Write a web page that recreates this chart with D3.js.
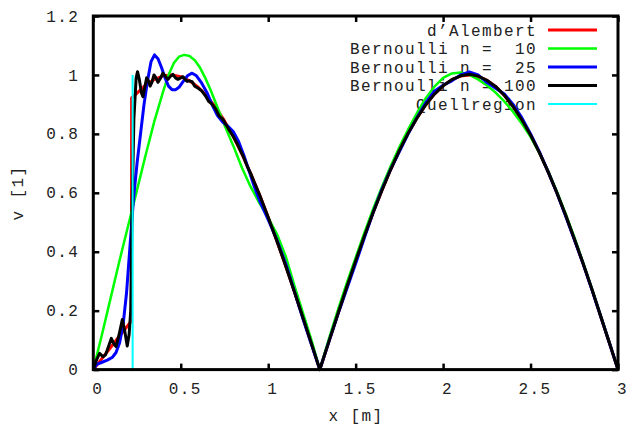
<!DOCTYPE html>
<html>
<head>
<meta charset="utf-8">
<script src="https://cdn.jsdelivr.net/npm/d3@7"></script>
<style>
  html, body { margin: 0; padding: 0; background: #fff; }
  svg { display: block; }
  text { font-family: "Liberation Mono", "DejaVu Sans Mono", monospace; font-size: 16px; letter-spacing: 1.4px; fill: #222; white-space: pre; }
</style>
</head>
<body>
<svg id="chart" width="629" height="426"></svg>
<script>
// ---- data ----
const xTicks = [0, 0.5, 1, 1.5, 2, 2.5, 3];
const yTicks = [0, 0.2, 0.4, 0.6, 0.8, 1, 1.2];
const seriesNames = ["d\u2019Alembert", "Bernoulli n =  10", "Bernoulli n =  25", "Bernoulli n = 100", "Quellregion"];

const dAlembert = [
  [0,0],[0.05,0.038],[0.1,0.076],[0.15,0.114],[0.218,0.165],[0.219,0.922],[0.25,0.938],[0.3,0.966],
  [0.35,0.985],[0.4,0.997],[0.45,1.0],[0.5,0.994],[0.55,0.98],[0.6,0.958],[0.65,0.928],[0.7,0.89],
  [0.75,0.844],[0.8,0.791],[0.85,0.731],[0.9,0.665],[0.95,0.594],[1.0,0.517],[1.05,0.436],[1.1,0.352],
  [1.15,0.264],[1.2,0.174],[1.25,0.083],[1.295,0],
  [1.35,0.101],[1.4,0.192],[1.45,0.282],[1.5,0.369],[1.55,0.453],[1.6,0.533],[1.65,0.608],[1.7,0.679],
  [1.75,0.744],[1.8,0.802],[1.85,0.853],[1.9,0.898],[1.95,0.935],[2.0,0.963],[2.05,0.984],[2.1,0.996],
  [2.15,1.0],[2.2,0.995],[2.25,0.982],[2.3,0.961],[2.35,0.931],[2.4,0.893],[2.45,0.848],[2.5,0.796],
  [2.55,0.737],[2.6,0.672],[2.65,0.601],[2.7,0.525],[2.75,0.444],[2.8,0.361],[2.85,0.274],[2.9,0.183],
  [2.95,0.092],[3.0,0]
];

const bernoulli10 = [
  [0,0],[0.05,0.12],[0.1,0.245],[0.15,0.37],[0.2,0.49],[0.25,0.61],[0.3,0.73],[0.35,0.845],[0.4,0.945],
  [0.43,1.0],[0.46,1.04],[0.49,1.062],[0.52,1.068],[0.55,1.064],[0.58,1.05],[0.61,1.025],[0.64,0.99],
  [0.67,0.95],[0.7,0.905],[0.75,0.83],[0.8,0.76],[0.85,0.685],[0.9,0.62],[0.95,0.565],[1.0,0.515],
  [1.05,0.46],[1.1,0.385],[1.15,0.285],[1.2,0.19],[1.25,0.095],[1.295,0],
  [1.35,0.11],[1.4,0.205],[1.45,0.295],[1.5,0.38],[1.55,0.465],[1.6,0.545],[1.65,0.62],[1.7,0.69],
  [1.75,0.755],[1.8,0.815],[1.85,0.87],[1.9,0.92],[1.95,0.96],[2.0,0.99],[2.05,1.005],[2.1,1.008],
  [2.15,1.0],[2.2,0.985],[2.25,0.965],[2.3,0.94],[2.35,0.91],[2.4,0.875],[2.45,0.835],[2.5,0.79],
  [2.55,0.735],[2.6,0.675],[2.65,0.605],[2.7,0.53],[2.75,0.45],[2.8,0.365],[2.85,0.277],[2.9,0.186],
  [2.95,0.094],[3.0,0]
];

const bernoulli25 = [
  [0,0],[0.02,0.018],[0.05,0.025],[0.08,0.032],[0.11,0.042],[0.13,0.058],[0.15,0.09],[0.17,0.15],
  [0.19,0.26],[0.21,0.42],[0.23,0.58],[0.25,0.70],[0.27,0.80],[0.29,0.90],[0.31,0.98],[0.33,1.045],
  [0.35,1.068],[0.37,1.055],[0.39,1.025],[0.41,0.99],[0.43,0.962],[0.45,0.95],[0.47,0.95],[0.49,0.958],
  [0.51,0.975],[0.54,0.998],[0.565,1.006],[0.59,0.997],[0.62,0.972],[0.65,0.94],[0.68,0.898],
  [0.71,0.862],[0.74,0.84],[0.77,0.826],[0.8,0.808],[0.83,0.775],[0.86,0.728],[0.89,0.676],
  [0.92,0.622],[0.95,0.574],[0.98,0.535],[1.01,0.495],[1.05,0.44],[1.1,0.36],[1.15,0.265],
  [1.2,0.17],[1.25,0.08],[1.295,0],
  [1.35,0.10],[1.4,0.19],[1.45,0.275],[1.5,0.36],[1.55,0.447],[1.6,0.533],[1.65,0.612],[1.7,0.68],
  [1.75,0.74],[1.8,0.80],[1.85,0.855],[1.9,0.905],[1.95,0.945],[2.0,0.965],[2.05,0.98],[2.1,1.0],
  [2.15,1.01],[2.2,1.0],[2.25,0.975],[2.3,0.955],[2.35,0.935],[2.4,0.9],[2.45,0.855],[2.5,0.8],
  [2.55,0.74],[2.6,0.672],[2.65,0.6],[2.7,0.522],[2.75,0.442],[2.8,0.36],[2.85,0.273],[2.9,0.183],
  [2.95,0.092],[3.0,0]
];

const bernoulli100 = [
  [0,0],[0.02,0.035],[0.036,0.055],[0.055,0.044],[0.07,0.05],[0.085,0.075],[0.103,0.106],[0.12,0.085],
  [0.13,0.078],[0.148,0.12],[0.166,0.17],[0.18,0.13],[0.194,0.08],[0.205,0.12],[0.214,0.2],[0.222,0.55],
  [0.232,0.85],[0.245,0.99],[0.253,1.011],[0.263,0.985],[0.275,0.94],[0.284,0.926],[0.295,0.96],
  [0.305,0.99],[0.315,0.98],[0.325,0.962],[0.335,0.975],[0.347,1.0],[0.358,0.99],[0.37,0.975],
  [0.385,0.99],[0.398,1.006],[0.412,0.995],[0.427,0.985],[0.441,0.995],[0.455,1.002],[0.47,0.99],
  [0.484,0.985],[0.5,0.99],[0.513,0.994],[0.525,0.985],[0.537,0.978],[0.55,0.98],[0.565,0.977],
  [0.58,0.962],[0.6,0.955],[0.62,0.946],[0.64,0.93],[0.66,0.91],[0.68,0.9],[0.7,0.885],[0.72,0.86],
  [0.74,0.85],[0.76,0.83],[0.78,0.81],[0.8,0.792],[0.82,0.77],[0.84,0.745],[0.86,0.72],[0.88,0.69],
  [0.9,0.665],[0.95,0.594],[1.0,0.517],[1.05,0.436],[1.1,0.352],[1.15,0.264],[1.2,0.174],[1.25,0.083],
  [1.295,0],
  [1.35,0.101],[1.4,0.192],[1.45,0.282],[1.5,0.369],[1.55,0.453],[1.6,0.533],[1.65,0.608],[1.7,0.679],
  [1.75,0.744],[1.8,0.802],[1.85,0.853],[1.9,0.898],[1.95,0.935],[2.0,0.963],[2.05,0.984],[2.1,0.997],
  [2.15,1.002],[2.2,0.996],[2.25,0.982],[2.3,0.961],[2.35,0.931],[2.4,0.893],[2.45,0.848],[2.5,0.796],
  [2.55,0.737],[2.6,0.672],[2.65,0.601],[2.7,0.525],[2.75,0.444],[2.8,0.361],[2.85,0.274],[2.9,0.183],
  [2.95,0.092],[3.0,0]
];

const quellregion = [[0.225,0],[0.225,1.0]];

const seriesColors = ["#ff0000", "#00ff00", "#0000ff", "#000000", "#00ffff"];
const seriesWidths = [3, 2.5, 3, 3, 2];

// ---- drawing ----
const svg = d3.select("#chart");
const x = d3.scaleLinear().domain([0, 3]).range([93.3, 618]);
const y = d3.scaleLinear().domain([0, 1.2]).range([369.6, 16]);

svg.append("rect").attr("width", 629).attr("height", 426).attr("fill", "#fff");

// axes with inward ticks
const axB = svg.append("g").attr("transform", `translate(0,${y(0)})`)
  .call(d3.axisBottom(x).tickValues(xTicks).tickSize(-6).tickPadding(13).tickFormat(d => d));
const axT = svg.append("g").attr("transform", `translate(0,${y(1.2)})`)
  .call(d3.axisTop(x).tickValues(xTicks).tickSize(-6).tickFormat(""));
const axL = svg.append("g").attr("transform", `translate(${x(0)},0)`)
  .call(d3.axisLeft(y).tickValues(yTicks).tickSize(-6).tickPadding(14).tickFormat(d => d));
const axR = svg.append("g").attr("transform", `translate(${x(3)},0)`)
  .call(d3.axisRight(y).tickValues(yTicks).tickSize(-6).tickFormat(""));
[axB, axT, axL, axR].forEach(g => {
  g.select(".domain").remove();
  g.selectAll(".tick line").attr("stroke", "#000").attr("stroke-width", 2.5);
  g.selectAll("text").attr("font-family", null).attr("font-size", null).attr("fill", "#222");
});
axB.selectAll(".tick text").attr("dx", "4");

// axis titles
svg.append("text").attr("x", 356).attr("y", 421).attr("text-anchor", "middle").text("x [m]");
svg.append("text").attr("transform", "translate(23,193) rotate(-90)").attr("text-anchor", "middle").text("v [1]");

// legend
const legY = d3.scalePoint().domain(seriesNames).range([30, 104]);
const leg = svg.append("g");
seriesNames.forEach((n, i) => {
  leg.append("text").attr("x", 537).attr("y", legY(n)).attr("dy", "0.36em")
    .attr("text-anchor", "end").attr("xml:space", "preserve").text(n);
  leg.append("line").attr("x1", 548).attr("x2", 597).attr("y1", legY(n)).attr("y2", legY(n))
    .attr("stroke", seriesColors[i]).attr("stroke-width", seriesWidths[i]);
});

// curves
const line = d3.line().x(d => x(d[0])).y(d => y(d[1])).curve(d3.curveLinear);
const allSeries = [dAlembert, bernoulli10, bernoulli25, bernoulli100, quellregion];
allSeries.forEach((s, i) => {
  svg.append("path").datum(s).attr("d", line).attr("fill", "none")
    .attr("stroke", seriesColors[i]).attr("stroke-width", seriesWidths[i])
    .attr("stroke-linejoin", "round");
});

// border
svg.append("rect").attr("x", x(0)).attr("y", y(1.2)).attr("width", x(3) - x(0)).attr("height", y(0) - y(1.2))
  .attr("fill", "none").attr("stroke", "#000").attr("stroke-width", 3);
</script>
</body>
</html>
